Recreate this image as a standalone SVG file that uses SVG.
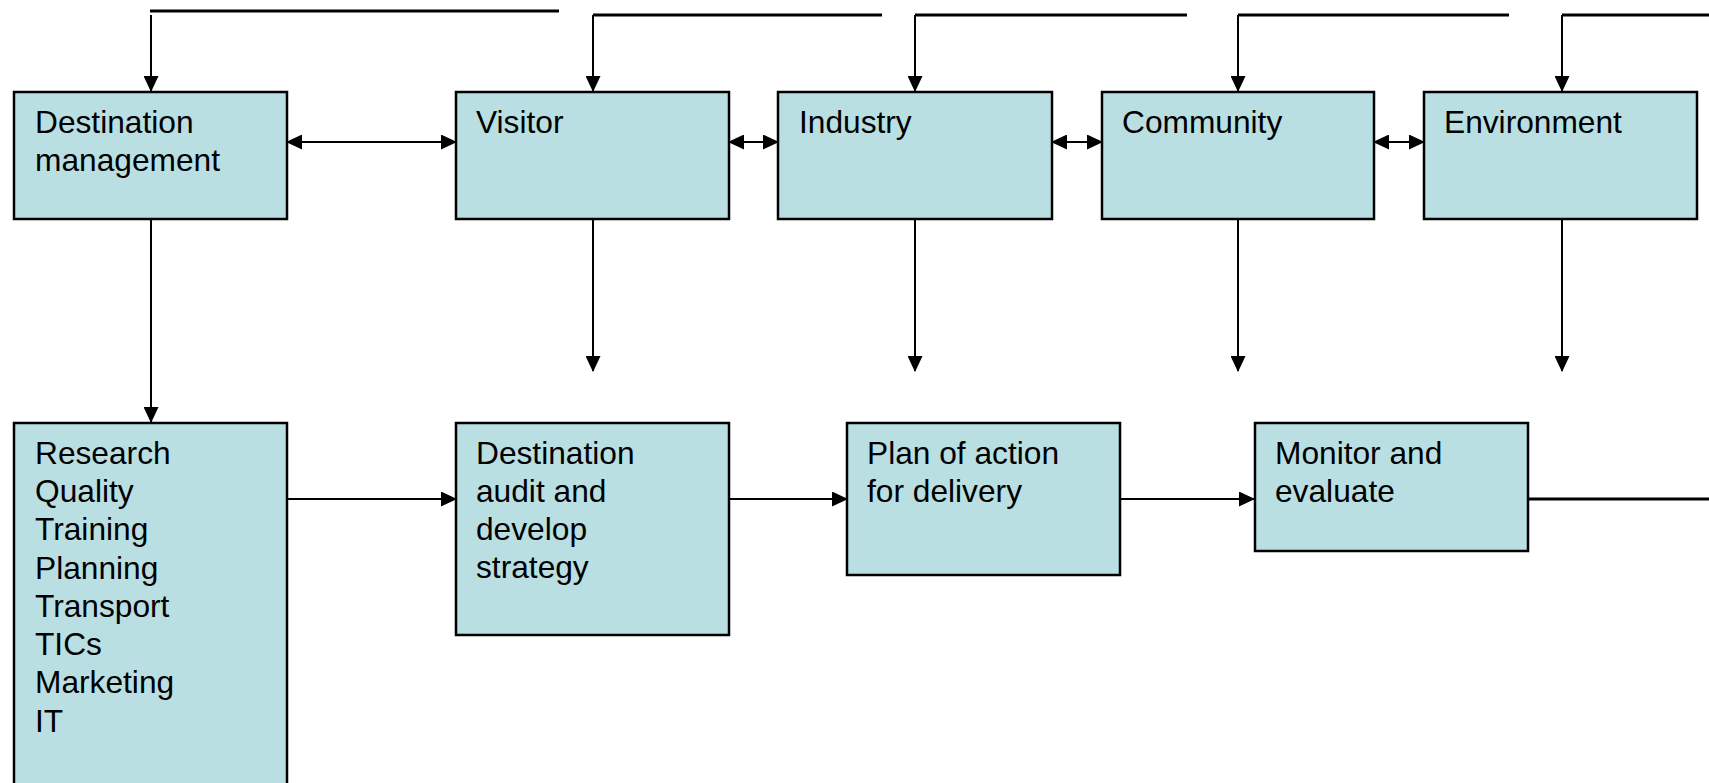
<svg xmlns="http://www.w3.org/2000/svg" width="1709" height="783" viewBox="0 0 1709 783">
<style>
.box{fill:#B9DFE3;stroke:#000;stroke-width:2.5}
.lbl{font-family:"Liberation Sans",Arial,sans-serif;font-size:31.7px;fill:#000}
.c{fill:none;stroke:#000;stroke-width:2}
.t{fill:none;stroke:#000;stroke-width:3}
</style>
<defs>
<marker id="ah" viewBox="0 0 16 15" refX="15" refY="7.5" markerUnits="userSpaceOnUse" markerWidth="16" markerHeight="15" orient="auto-start-reverse">
<path d="M0,0 L16,7.5 L0,15 z" fill="#000"/>
</marker>
</defs>
<rect width="1709" height="783" fill="#fff"/>
<g id="connectors">
<line class="t" x1="150" y1="11" x2="559" y2="11"/>
<line class="c" x1="151" y1="15" x2="151" y2="91" marker-end="url(#ah)"/>
<polyline class="t" points="882,15 593,15"/>
<line class="c" x1="593" y1="15" x2="593" y2="91" marker-end="url(#ah)"/>
<polyline class="t" points="1187,15 915,15"/>
<line class="c" x1="915" y1="15" x2="915" y2="91" marker-end="url(#ah)"/>
<polyline class="t" points="1509,15 1238,15"/>
<line class="c" x1="1238" y1="15" x2="1238" y2="91" marker-end="url(#ah)"/>
<polyline class="t" points="1712,15 1562,15"/>
<line class="c" x1="1562" y1="15" x2="1562" y2="91" marker-end="url(#ah)"/>
<line class="c" x1="287" y1="142" x2="456" y2="142" marker-start="url(#ah)" marker-end="url(#ah)"/>
<line class="c" x1="729" y1="142" x2="778" y2="142" marker-start="url(#ah)" marker-end="url(#ah)"/>
<line class="c" x1="1052" y1="142" x2="1102" y2="142" marker-start="url(#ah)" marker-end="url(#ah)"/>
<line class="c" x1="1374" y1="142" x2="1424" y2="142" marker-start="url(#ah)" marker-end="url(#ah)"/>
<line class="c" x1="151" y1="219" x2="151" y2="422" marker-end="url(#ah)"/>
<line class="c" x1="593" y1="219" x2="593" y2="371" marker-end="url(#ah)"/>
<line class="c" x1="915" y1="219" x2="915" y2="371" marker-end="url(#ah)"/>
<line class="c" x1="1238" y1="219" x2="1238" y2="371" marker-end="url(#ah)"/>
<line class="c" x1="1562" y1="219" x2="1562" y2="371" marker-end="url(#ah)"/>
<line class="c" x1="287" y1="499" x2="456" y2="499" marker-end="url(#ah)"/>
<line class="c" x1="729" y1="499" x2="847" y2="499" marker-end="url(#ah)"/>
<line class="c" x1="1120" y1="499" x2="1254" y2="499" marker-end="url(#ah)"/>
<line class="t" x1="1528" y1="499" x2="1712" y2="499"/>
</g>
<g id="dest-mgmt">
<rect class="box" x="14" y="92" width="273" height="127"/>
<text class="lbl" x="35" y="133">Destination</text>
<text class="lbl" x="35" y="171">management</text>
</g>
<g id="visitor">
<rect class="box" x="456" y="92" width="273" height="127"/>
<text class="lbl" x="476" y="133">Visitor</text>
</g>
<g id="industry">
<rect class="box" x="778" y="92" width="274" height="127"/>
<text class="lbl" x="799" y="133">Industry</text>
</g>
<g id="community">
<rect class="box" x="1102" y="92" width="272" height="127"/>
<text class="lbl" x="1122" y="133">Community</text>
</g>
<g id="environment">
<rect class="box" x="1424" y="92" width="273" height="127"/>
<text class="lbl" x="1444" y="133">Environment</text>
</g>
<g id="functions">
<rect class="box" x="14" y="423" width="273" height="380"/>
<text class="lbl" x="35" y="464">Research</text>
<text class="lbl" x="35" y="502">Quality</text>
<text class="lbl" x="35" y="540">Training</text>
<text class="lbl" x="35" y="579">Planning</text>
<text class="lbl" x="35" y="617">Transport</text>
<text class="lbl" x="35" y="655">TICs</text>
<text class="lbl" x="35" y="693">Marketing</text>
<text class="lbl" x="35" y="732">IT</text>
</g>
<g id="audit">
<rect class="box" x="456" y="423" width="273" height="212"/>
<text class="lbl" x="476" y="464">Destination</text>
<text class="lbl" x="476" y="502">audit and</text>
<text class="lbl" x="476" y="540">develop</text>
<text class="lbl" x="476" y="578">strategy</text>
</g>
<g id="plan">
<rect class="box" x="847" y="423" width="273" height="152"/>
<text class="lbl" x="867" y="464">Plan of action</text>
<text class="lbl" x="867" y="502">for delivery</text>
</g>
<g id="monitor">
<rect class="box" x="1255" y="423" width="273" height="128"/>
<text class="lbl" x="1275" y="464">Monitor and</text>
<text class="lbl" x="1275" y="502">evaluate</text>
</g>
</svg>
